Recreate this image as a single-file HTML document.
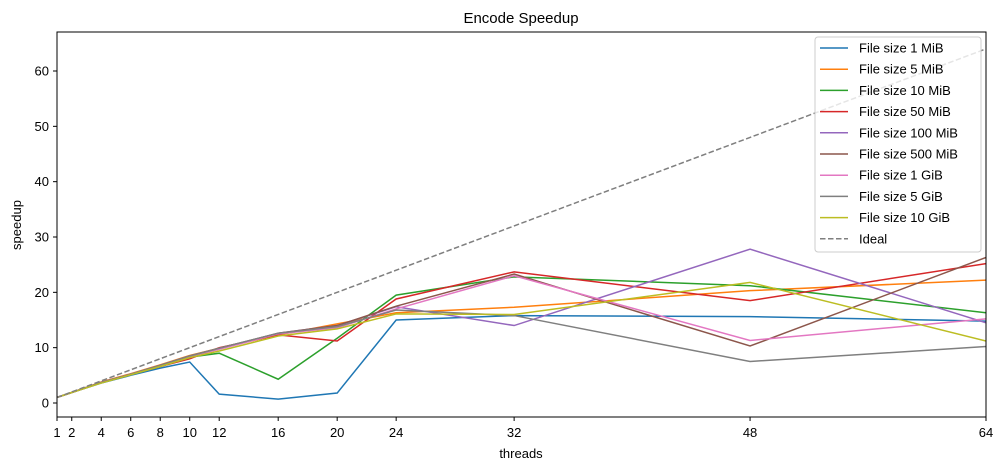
<!DOCTYPE html>
<html><head><meta charset="utf-8"><style>
body{margin:0;background:#fff;font-family:"Liberation Sans","DejaVu Sans",sans-serif;}
svg text{font-family:"Liberation Sans","DejaVu Sans",sans-serif;font-size:13px;fill:#000;}
</style></head><body>
<svg id="chart" width="1005" height="470" xmlns="http://www.w3.org/2000/svg">
<text x="521" y="23" text-anchor="middle" style="font-size:15px">Encode Speedup</text>
<g id="plot"></g>
<rect x="57" y="32" width="929" height="385" fill="none" stroke="#000" stroke-width="1"/>
<text x="521" y="458" text-anchor="middle">threads</text>
<text transform="translate(21,225) rotate(-90)" text-anchor="middle">speedup</text>
<g id="legend"></g>
</svg>
<script>
const threads=[1,2,4,6,8,10,12,16,20,24,32,48,64];
const xTicks=[1,2,4,6,8,10,12,16,20,24,32,48,64];
const yTicks=[0,10,20,30,40,50,60];
const seriesNames=["File size 1 MiB","File size 5 MiB","File size 10 MiB","File size 50 MiB","File size 100 MiB","File size 500 MiB","File size 1 GiB","File size 5 GiB","File size 10 GiB"];
const colors=["#1f77b4","#ff7f0e","#2ca02c","#d62728","#9467bd","#8c564b","#e377c2","#7f7f7f","#bcbd22"];
const s1MiB=[1,1.9,3.6,5,6.3,7.4,1.6,0.7,1.8,15,15.8,15.6,14.8];
const s5MiB=[1,1.9,3.8,5.3,6.9,8.6,9.9,12.3,14.3,16.3,17.3,20.3,22.2];
const s10MiB=[1,1.9,3.7,5.2,6.7,8.3,9.0,4.3,11.7,19.5,22.8,21.2,16.3];
const s50MiB=[1,1.9,3.7,5.2,6.6,8.0,10.0,12.3,11.2,18.8,23.7,18.5,25.2];
const s100MiB=[1,1.9,3.7,5.2,6.8,8.5,9.8,12.6,14.0,17.4,14.0,27.8,14.5];
const s500MiB=[1,1.9,3.7,5.2,6.8,8.5,9.9,12.6,14.0,17.5,23.3,10.3,26.3];
const s1GiB=[1,1.9,3.7,5.2,6.7,8.4,9.7,12.5,13.6,17.0,23.0,11.3,15.2];
const s5GiB=[1,1.9,3.7,5.2,6.8,8.5,9.9,12.6,13.8,16.8,15.8,7.5,10.2];
const s10GiB=[1,1.9,3.6,5.1,6.6,8.2,9.4,12.1,13.4,16.1,16.0,21.8,11.2];
const allSeries=[s1MiB,s5MiB,s10MiB,s50MiB,s100MiB,s500MiB,s1GiB,s5GiB,s10GiB];
const NS="http://www.w3.org/2000/svg";
const X0=57,X1=986,Y0=403,YPER=(403-71)/60;
function xs(v){return X0+(v-1)*(X1-X0)/63;}
function ys(v){return Y0-v*YPER;}
const svg=document.getElementById('chart');
const plot=document.getElementById('plot');
function mk(tag,attrs,parent){const e=document.createElementNS(NS,tag);for(const k in attrs)e.setAttribute(k,attrs[k]);(parent||svg).appendChild(e);return e;}
xTicks.forEach(t=>{
 const l=mk('line',{x1:xs(t),x2:xs(t),y1:417,y2:421,stroke:'#000'});
 
 
 const tx=mk('text',{x:xs(t),y:437,'text-anchor':'middle'});tx.textContent=t;
 
 
});
yTicks.forEach(t=>{
 const l=mk('line',{x1:53,x2:57,y1:ys(t),y2:ys(t),stroke:'#000'});
 
 
 const tx=mk('text',{x:49,y:ys(t)+4.5,'text-anchor':'end'});tx.textContent=t;
 
 
});
const clip=mk('clipPath',{id:'pc'});mk('rect',{x:57,y:32,width:929,height:385},clip);
allSeries.forEach((s,i)=>{
 const p=mk('polyline',{points:threads.map((t,j)=>xs(t)+','+ys(s[j])).join(' '),fill:'none',stroke:colors[i],'stroke-width':1.5,'clip-path':'url(#pc)'},plot);
 
 
});
const ideal=mk('polyline',{points:threads.map(t=>xs(t)+','+ys(t)).join(' '),fill:'none',stroke:'#7f7f7f','stroke-width':1.5,'stroke-dasharray':'5.5,2.5','clip-path':'url(#pc)'},plot);


const lg=document.getElementById('legend');
const box=mk('rect',{x:815,y:37,width:166,height:215,rx:3,fill:'#fff','fill-opacity':0.8,stroke:'#ccc'},lg);


const names=seriesNames.concat(['Ideal']);
names.forEach((n,i)=>{
 const y=48+i*21.2;
 const col=i<9?colors[i]:'#7f7f7f';
 const l=mk('line',{x1:820,x2:848,y1:y,y2:y,stroke:col,'stroke-width':1.5},lg);
 if(i==9)l.setAttribute('stroke-dasharray','5.5,2.5');
 
 
 const t=mk('text',{x:859,y:y+4.5},lg);t.textContent=n;
 
 
});
</script>
</body></html>
